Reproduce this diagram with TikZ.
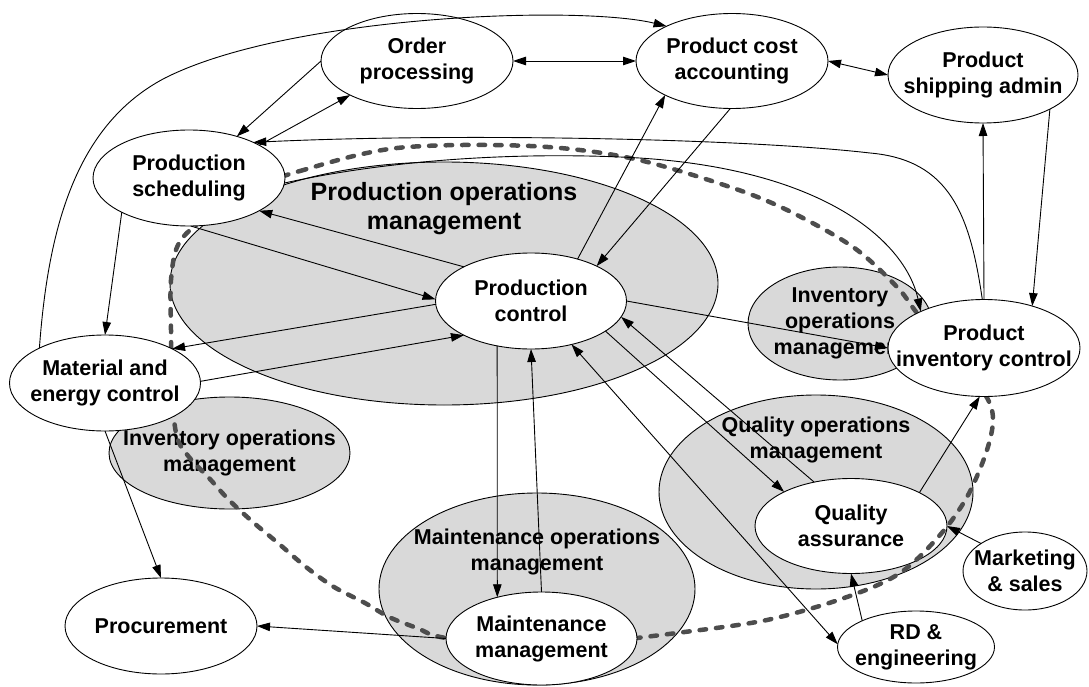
\documentclass[tikz,border=0pt]{standalone}
\usepackage{fontspec}
\setmainfont{Liberation Sans}
\usetikzlibrary{shapes.geometric,arrows.meta}
\definecolor{opsgray}{RGB}{217,217,217}
\definecolor{dashgray}{RGB}{77,77,77}

\begin{document}
\begin{tikzpicture}[x=1pt,y=-1pt,
>={Triangle[length=13pt,width=8.5pt]},
proc/.style={draw,ellipse,fill=white,line width=0.9pt,inner sep=0pt,outer sep=0pt,minimum width=192pt,minimum height=96pt},
ops/.style={draw,ellipse,fill=opsgray,line width=0.9pt,inner sep=0pt,outer sep=0pt},
txt/.style={font=\bfseries\fontsize{21.5}{26}\selectfont,align=center,inner sep=0pt},
bigtxt/.style={font=\bfseries\fontsize{25}{29}\selectfont,align=center,inner sep=0pt},
flow/.style={line width=0.9pt},
bound/.style={draw=dashgray,line width=4.5pt,line cap=round,dash pattern=on 6.5pt off 10pt}]

\useasboundingbox (0,0) rectangle (1089,687);

\node (prodops) [ops,minimum width=548pt,minimum height=243pt,
    label={[bigtxt,yshift=74.5pt]center:Production operations\\management}] at (444,283.5) {};
\node (invopsl) [ops,minimum width=241pt,minimum height=112pt,
    label={[txt]center:Inventory operations\\management}] at (229.5,453) {};
\node (invopsr) [ops,minimum width=184pt,minimum height=113pt,
    label={[txt]center:Inventory\\operations\\management}] at (840,323.5) {};
\node (qualops) [ops,minimum width=314pt,minimum height=194pt,
    label={[txt,yshift=52.5pt]center:Quality operations\\management}] at (816,492) {};
\node (maintops) [ops,minimum width=316pt,minimum height=192pt,
    label={[txt,yshift=37.5pt]center:Maintenance operations\\management}] at (537,589) {};

\node (qa) [proc,minimum height=95pt,
    label={[txt]center:Quality\\assurance}] at (851,526) {};

\draw[bound] plot[smooth cycle,tension=0.55] coordinates {
    (250,190) (300,171) (397,148) (530,146) (630,158) (727,186) (787,210)
    (853,247) (897,287) (917,313) (960,365) (986,396) (993,420) (986,453)
    (967,497) (940,535) (900,573) (847,597) (767,620) (677,633) (637,638)
    (541,648) (446,638) (417,628) (389,617) (365,603) (334,587) (306,567)
    (278,543) (254,523) (229,500) (209,478) (189,457) (177,437) (172,395)
    (171,330) (171,280) (178,245) (200,222)};

\node (prodsched) [proc,
    label={[txt]center:Production\\scheduling}] at (189,178) {};
\node (ordproc) [proc,minimum height=95pt,
    label={[txt]center:Order\\processing}] at (417,61) {};
\node (costacc) [proc,minimum height=95pt,
    label={[txt]center:Product cost\\accounting}] at (732,61) {};
\node (shipadm) [proc,minimum width=190pt,
    label={[txt]center:Product\\shipping admin}] at (983,75) {};
\node (prodctl) [proc,minimum width=191pt,
    label={[txt]center:Production\\control}] at (531,301) {};
\node (matctl) [proc,minimum width=191pt,
    label={[txt]center:Material and\\energy control}] at (105,383) {};
\node (invctl) [proc,minimum height=97pt,
    label={[txt]center:Product\\inventory control}] at (984,348) {};
\node (mktg) [proc,minimum width=124pt,minimum height=78pt,
    label={[txt]center:Marketing\\\& sales}] at (1025,571) {};
\node (rdeng) [proc,minimum width=157pt,minimum height=72pt,
    label={[txt]center:RD \&\\engineering}] at (916,647) {};
\node (maintmgmt) [proc,minimum width=191pt,minimum height=93pt,
    label={[txt]center:Maintenance\\management}] at (541.5,638.5) {};
\node (procure) [proc,
    label={[txt]center:Procurement}] at (161,626) {};

\draw[flow,<->] (ordproc.east) -- (costacc.west);
\draw[flow,<->] (costacc.east) -- (shipadm.west);
\draw[flow,->] (ordproc.west) -- (prodsched.41);
\draw[flow,->] (prodsched.25) -- (ordproc.207);
\draw[flow,->] (invctl.92) .. controls (970,215) and (950,160) .. (870,153)
    .. controls (740,138) and (450,133) .. (prodsched.29);
\draw[flow,->] (prodsched.357) .. controls (380,162) and (500,152) .. (620,157)
    .. controls (820,165) and (905,240) .. (invctl.150);
\draw[flow,->] (matctl.152) .. controls (48,230) and (75,125) .. (165,78)
    .. controls (290,15) and (580,5) .. (costacc.152);
\draw[flow,->] (costacc.268) -- (prodctl.28);
\draw[flow,->] (prodctl.42) -- (costacc.207);
\draw[flow,->] (invctl.north) -- (shipadm.south);
\draw[flow,->] (shipadm.333) -- (invctl.41);
\draw[flow,->] (prodctl.153) -- (prodsched.335);
\draw[flow,->] (prodsched.272) -- (prodctl.179);
\draw[flow,->] (prodctl.182) -- (matctl.27);
\draw[flow,->] (matctl.1) -- (prodctl.207);
\draw[flow,->] (prodsched.207) -- (matctl.north);
\draw[flow,->] (matctl.south) -- (procure.north);
\draw[flow,->] (maintmgmt.west) -- (procure.east);
\draw[flow,->] (prodctl.233) -- (maintmgmt.137);
\draw[flow,->] (maintmgmt.north) -- (prodctl.south);
\draw[flow,->] (prodctl.east) -- (invctl.west);
\draw[flow,->] (prodctl.338) -- (qa.153);
\draw[flow,->] (qa.130) -- (prodctl.350);
\draw[flow,<->] (prodctl.313) -- (rdeng.178);
\draw[flow,->] (qa.26) -- (invctl.265);
\draw[flow,->] (mktg.148) -- (qa.east);
\draw[flow,->] (rdeng.154) -- (qa.south);
\end{tikzpicture}
\end{document}
